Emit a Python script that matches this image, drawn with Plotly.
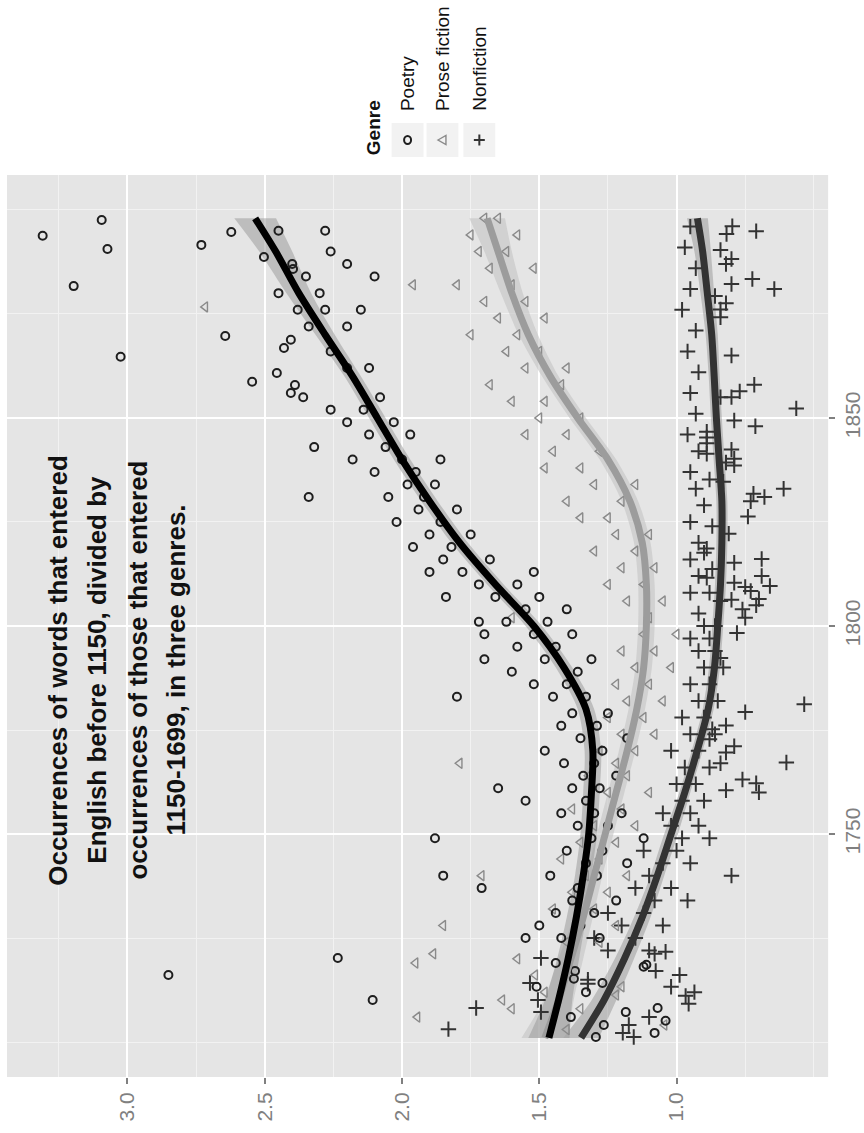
import plotly.graph_objects as go

W, H = 864, 1133

# ---- smoothed trends (year -> ratio) and half-width of the confidence band ----
trend_years = [1701, 1710, 1720, 1730, 1740, 1750, 1760, 1770, 1780, 1790, 1800,
               1810, 1820, 1830, 1840, 1850, 1860, 1870, 1880, 1890, 1898]
poetry_fit = [1.465, 1.43, 1.395, 1.365, 1.34, 1.32, 1.31, 1.305, 1.33, 1.41, 1.52,
              1.66, 1.79, 1.90, 2.00, 2.09, 2.18, 2.28, 2.376, 2.46, 2.535]
poetry_se = [0.075, 0.05, 0.04, 0.035, 0.03, 0.03, 0.03, 0.03, 0.03, 0.03, 0.03,
             0.03, 0.03, 0.03, 0.03, 0.03, 0.03, 0.035, 0.045, 0.06, 0.076]
prose_fit = [1.48, 1.43, 1.385, 1.34, 1.30, 1.26, 1.22, 1.18, 1.145, 1.12, 1.11,
             1.11, 1.125, 1.17, 1.25, 1.36, 1.46, 1.54, 1.60, 1.65, 1.69]
prose_se = [0.085, 0.055, 0.045, 0.035, 0.03, 0.03, 0.03, 0.03, 0.03, 0.03, 0.03,
            0.03, 0.03, 0.03, 0.03, 0.03, 0.03, 0.035, 0.04, 0.05, 0.065]
nonfic_fit = [1.348, 1.265, 1.19, 1.125, 1.07, 1.02, 0.97, 0.925, 0.885, 0.862, 0.85,
              0.84, 0.835, 0.835, 0.845, 0.855, 0.863, 0.872, 0.888, 0.905, 0.924]
nonfic_se = [0.065, 0.045, 0.035, 0.03, 0.025, 0.025, 0.02, 0.02, 0.02, 0.02, 0.02,
             0.02, 0.02, 0.02, 0.02, 0.02, 0.02, 0.022, 0.025, 0.03, 0.038]

# ---- individual texts: Poetry ----
poetry_year = [1893.8, 1897.6, 1890.6, 1881.7, 1864.7, 1891.6, 1894.7, 1888.7, 1885.8,
               1869.7, 1858.7, 1866.8, 1868.8, 1860.8, 1857.9, 1856.0,
               1716.1, 1720.2, 1710.1, 1719.0, 1713.3, 1706.0, 1717.1, 1715.2, 1712.0,
               1714.2, 1707.2, 1704.1, 1701.2, 1702.2, 1705.1, 1708.2, 1718.1, 1718.6,
               1725, 1725, 1725, 1728, 1728, 1731, 1731, 1734, 1734, 1737, 1737,
               1740, 1740, 1740, 1743, 1743, 1746, 1746, 1749, 1749, 1749, 1752, 1752,
               1755, 1755, 1755, 1758, 1758, 1761, 1761, 1761, 1764, 1764, 1767, 1767,
               1770, 1770, 1773, 1773, 1776, 1776, 1779, 1779, 1783, 1783, 1783,
               1786, 1786, 1789, 1789, 1792, 1792, 1792, 1795, 1795, 1798, 1798, 1798,
               1801, 1801, 1801, 1804, 1804, 1807, 1807, 1807, 1810, 1810,
               1813, 1813, 1813, 1816, 1816, 1819, 1819, 1822, 1822, 1825, 1825,
               1828, 1828, 1831, 1831, 1831, 1834, 1834, 1837, 1837, 1840, 1840, 1840,
               1843, 1843, 1846, 1846, 1849, 1849, 1852, 1852, 1855, 1855,
               1862, 1862, 1866, 1872, 1872, 1876, 1876, 1876, 1880, 1880,
               1884, 1884, 1887, 1887, 1890, 1895, 1895]
poetry_val = [3.309, 3.094, 3.073, 3.196, 3.025, 2.731, 2.622, 2.503, 2.397,
              2.644, 2.546, 2.430, 2.405, 2.456, 2.39, 2.405,
              2.851, 2.234, 2.107, 1.44, 1.51, 1.385, 1.37, 1.374, 1.33,
              1.27, 1.185, 1.265, 1.294, 1.08, 1.04, 1.069, 1.12, 1.11,
              1.42, 1.28, 1.55, 1.35, 1.50, 1.30, 1.44, 1.38, 1.22, 1.36, 1.71,
              1.29, 1.85, 1.46, 1.33, 1.18, 1.40, 1.27, 1.31, 1.88, 1.12, 1.36, 1.25,
              1.42, 1.30, 1.20, 1.33, 1.55, 1.28, 1.65, 1.38, 1.34, 1.22, 1.41, 1.30,
              1.27, 1.48, 1.35, 1.18, 1.29, 1.42, 1.38, 1.25, 1.80, 1.33, 1.45,
              1.40, 1.52, 1.36, 1.60, 1.48, 1.31, 1.70, 1.44, 1.58, 1.52, 1.38, 1.70,
              1.47, 1.62, 1.72, 1.55, 1.40, 1.66, 1.50, 1.84, 1.72, 1.58,
              1.78, 1.52, 1.90, 1.68, 1.85, 1.82, 1.96, 1.90, 1.75, 1.86, 2.02,
              1.94, 1.80, 2.05, 1.92, 2.34, 1.98, 1.88, 2.10, 1.95, 2.00, 2.18, 1.86,
              2.32, 2.06, 2.12, 1.97, 2.20, 2.03, 2.14, 2.26, 2.08, 2.36,
              2.20, 2.12, 2.26, 2.34, 2.20, 2.38, 2.28, 2.15, 2.45, 2.30,
              2.10, 2.35, 2.40, 2.20, 2.26, 2.28, 2.45]

# ---- individual texts: Prose fiction ----
prose_year = [1876.7, 1719.0, 1721.2, 1706.0, 1710.1, 1716.1, 1713.3, 1711.3, 1704.1,
              1703, 1708, 1708, 1712, 1720, 1724, 1724, 1728, 1728, 1728, 1732, 1732,
              1736, 1736, 1740, 1740, 1740, 1744, 1744, 1748, 1748, 1752, 1752,
              1756, 1756, 1760, 1760, 1764, 1764, 1767, 1767, 1770, 1770, 1774, 1774,
              1778, 1778, 1782, 1782, 1786, 1786, 1790, 1790, 1794, 1794, 1798, 1798,
              1802, 1802, 1806, 1806, 1810, 1810, 1814, 1814, 1818, 1818, 1822, 1822,
              1826, 1826, 1830, 1830, 1834, 1834, 1838, 1838, 1842, 1842, 1846, 1846,
              1850, 1850, 1854, 1854, 1858, 1858, 1862, 1862, 1866, 1866, 1870, 1870,
              1874, 1874, 1878, 1878, 1882, 1882, 1882, 1886, 1886, 1890, 1890,
              1894, 1894, 1898, 1898]
prose_val = [2.717, 1.951, 1.886, 1.944, 1.635, 1.515, 1.20, 1.22, 1.044,
             1.40, 1.35, 1.60, 1.48, 1.58, 1.40, 1.28, 1.85, 1.35, 1.22, 1.30, 1.45,
             1.25, 1.38, 1.71, 1.33, 1.18, 1.28, 1.42, 1.22, 1.35, 1.30, 1.15,
             1.20, 1.38, 1.25, 1.10, 1.18, 1.32, 1.79, 1.22, 1.15, 1.28, 1.20, 1.08,
             1.12, 1.25, 1.18, 1.05, 1.10, 1.22, 1.15, 1.02, 1.08, 1.20, 1.12, 1.00,
             1.60, 1.10, 1.05, 1.18, 1.12, 1.25, 1.08, 1.20, 1.15, 1.30, 1.10, 1.22,
             1.25, 1.35, 1.20, 1.40, 1.30, 1.15, 1.35, 1.48, 1.28, 1.45, 1.40, 1.55,
             1.35, 1.50, 1.48, 1.60, 1.42, 1.68, 1.55, 1.40, 1.62, 1.50, 1.58, 1.75,
             1.65, 1.48, 1.70, 1.55, 1.60, 1.80, 1.96, 1.68, 1.52, 1.72, 1.62,
             1.58, 1.75, 1.70, 1.65]

# ---- individual texts: Nonfiction ----
nonfic_year = [1896.1, 1894.9, 1894.2, 1890.4, 1888.2, 1887.0, 1883.4, 1882.2, 1881.0,
               1879.3, 1877.6, 1876.1, 1874.2, 1865.0, 1858.0, 1856.4, 1855.0, 1855.0,
               1852.3, 1849.4, 1848.0, 1846.7, 1845.3, 1843.9, 1842.4, 1840.2, 1841.4,
               1839.3, 1838.6, 1835.2, 1834.7, 1833.0, 1831.8, 1830.0, 1831.0, 1826.3,
               1824.0, 1822.2, 1817.6, 1818.6, 1815.2, 1816.1, 1812.0, 1813.7, 1811.6,
               1810.4, 1809.4, 1808.4, 1809.6, 1806.3, 1806.0, 1806.5, 1805.0, 1804.0,
               1802.0, 1798.3, 1792.3, 1781.2, 1779.3, 1776.1, 1775.2, 1772.8, 1771.1,
               1769.6, 1767.0, 1767.2, 1763.1, 1762.2, 1760.0, 1760.5,
               1708.2, 1703.1, 1720.2, 1714.2, 1710.1, 1707.2, 1715.0, 1714.0, 1702.2,
               1701.2, 1704.1, 1706.0, 1717.1, 1721.2, 1721.7, 1716.1, 1713.3, 1711.1,
               1712.0, 1709.2,
               1722, 1722, 1725, 1725, 1728, 1728, 1731, 1731, 1734, 1734, 1737, 1737,
               1740, 1740, 1743, 1743, 1746, 1746, 1749, 1749, 1752, 1752, 1755, 1755,
               1758, 1758, 1762, 1762, 1766, 1766, 1770, 1770, 1774, 1774, 1778, 1778,
               1782, 1782, 1786, 1786, 1790, 1790, 1794, 1794, 1797, 1797, 1800, 1800,
               1803, 1808, 1808, 1812, 1816, 1820, 1825, 1829, 1833, 1837, 1842, 1846,
               1851, 1856, 1861, 1866, 1871, 1876, 1881, 1886, 1891, 1896]
nonfic_val = [0.797, 0.710, 0.818, 0.840, 0.80, 0.82, 0.724, 0.80, 0.644,
              0.86, 0.82, 0.84, 0.84, 0.80, 0.717, 0.77, 0.80, 0.84,
              0.564, 0.79, 0.713, 0.89, 0.89, 0.89, 0.80, 0.79, 0.89,
              0.82, 0.79, 0.88, 0.83, 0.61, 0.72, 0.73, 0.68, 0.74,
              0.87, 0.81, 0.90, 0.89, 0.79, 0.69, 0.69, 0.87, 0.89,
              0.79, 0.75, 0.73, 0.66, 0.80, 0.84, 0.70, 0.71, 0.76,
              0.75, 0.78, 0.84, 0.535, 0.75, 0.82, 0.87, 0.88, 0.79,
              0.82, 0.84, 0.60, 0.76, 0.71, 0.70, 0.82,
              1.730, 1.831, 1.494, 1.534, 1.505, 1.494, 1.323, 1.323, 1.196,
              1.156, 1.174, 1.10, 1.076, 1.08, 1.04, 0.989, 1.02, 0.967,
              0.935, 0.956,
              1.25, 1.10, 1.15, 1.30, 1.20, 1.05, 1.12, 1.25, 1.08, 0.96, 1.15, 1.02,
              0.80, 1.10, 1.05, 0.95, 1.00, 1.12, 0.98, 0.88, 1.02, 0.92, 0.95, 1.05,
              0.90, 0.98, 0.93, 1.00, 0.88, 0.97, 0.92, 1.02, 0.95, 0.86, 0.90, 0.98,
              0.92, 0.85, 0.88, 0.95, 0.90, 0.83, 0.92, 0.86, 0.88, 0.95, 0.90, 0.86,
              0.92, 0.95, 0.88, 0.92, 0.95, 0.92, 0.95, 0.90, 0.93, 0.95, 0.92, 0.96,
              0.93, 0.95, 0.92, 0.96, 0.93, 0.98, 0.95, 0.93, 0.97, 0.95]

# ---- layout constants (pixels) ----
PANEL_L, PANEL_R, PANEL_T, PANEL_B = 7, 831, 175, 1077
X_RANGE = [3.439, 0.448]
Y_RANGE = [1691.6, 1908.4]
FONT = "Liberation Sans, Arial, Helvetica, sans-serif"
TICK_GREY = "#808080"
POETRY_COL, PROSE_COL, NONFIC_COL = "#1e1e1e", "#8a8a8a", "#333333"


def px(x, y):
    """Page pixel -> paper fraction."""
    return x / W, 1 - y / H


fig = go.Figure()

# confidence bands: lower edge, then upper edge filled horizontally to it
for fit, se, col in [(nonfic_fit, nonfic_se, "rgba(140,140,140,0.45)"),
                     (prose_fit, prose_se, "rgba(195,195,195,0.6)"),
                     (poetry_fit, poetry_se, "rgba(150,150,150,0.5)")]:
    lower = [f - s for f, s in zip(fit, se)]
    upper = [f + s for f, s in zip(fit, se)]
    fig.add_trace(go.Scatter(x=lower, y=trend_years, mode="lines",
                             line=dict(width=0, shape="spline", smoothing=0.8),
                             hoverinfo="skip", showlegend=False))
    fig.add_trace(go.Scatter(x=upper, y=trend_years, mode="lines", fill="tonextx",
                             fillcolor=col, line=dict(width=0, shape="spline", smoothing=0.8),
                             hoverinfo="skip", showlegend=False))

# points
fig.add_trace(go.Scatter(x=nonfic_val, y=nonfic_year, mode="markers", name="Nonfiction",
                         marker=dict(symbol="cross-thin-open", size=11, color=NONFIC_COL,
                                     line=dict(width=2, color=NONFIC_COL))))
fig.add_trace(go.Scatter(x=prose_val, y=prose_year, mode="markers", name="Prose fiction",
                         marker=dict(symbol="triangle-left-open", size=9, color=PROSE_COL,
                                     line=dict(width=1.4, color=PROSE_COL))))
fig.add_trace(go.Scatter(x=poetry_val, y=poetry_year, mode="markers", name="Poetry",
                         marker=dict(symbol="circle-open", size=8, color=POETRY_COL,
                                     line=dict(width=2, color=POETRY_COL))))

# trend lines
for fit, col in [(nonfic_fit, "#333333"), (prose_fit, "#9c9c9c"), (poetry_fit, "#000000")]:
    fig.add_trace(go.Scatter(x=fit, y=trend_years, mode="lines",
                             line=dict(color=col, width=7, shape="spline", smoothing=0.8),
                             hoverinfo="skip", showlegend=False))

# ---- legend, drawn as paper-space shapes and rotated labels ----
legend_names = ["Poetry", "Prose fiction", "Nonfiction"]
legend_x = [409, 444, 481]
KEY_Y = 140
shapes = []
for lx in legend_x:
    x0, y0 = px(lx - 16, 157)
    x1, y1 = px(lx + 16, 123)
    shapes.append(dict(type="rect", xref="paper", yref="paper", x0=x0, x1=x1, y0=y0, y1=y1,
                       fillcolor="#F2F2F2", line=dict(width=0), layer="below"))
# circle key
cx0, cy0 = px(legend_x[0] - 3.5, KEY_Y + 4)
cx1, cy1 = px(legend_x[0] + 3.5, KEY_Y - 4)
shapes.append(dict(type="circle", xref="paper", yref="paper", x0=cx0, x1=cx1, y0=cy0, y1=cy1,
                   line=dict(color=POETRY_COL, width=2)))
# left-pointing triangle key
tx = legend_x[1]
pts = [px(tx - 4.5, KEY_Y), px(tx + 3.5, KEY_Y - 4.5), px(tx + 3.5, KEY_Y + 4.5)]
path = "M {} {} L {} {} L {} {} Z".format(*[c for p in pts for c in p])
shapes.append(dict(type="path", xref="paper", yref="paper", path=path,
                   line=dict(color=PROSE_COL, width=1.4)))
# plus key
plx = legend_x[2]
for (ax, ay), (bx_, by_) in [((plx - 5.5, KEY_Y), (plx + 5.5, KEY_Y)),
                             ((plx, KEY_Y - 5.5), (plx, KEY_Y + 5.5))]:
    p0, p1 = px(ax, ay), px(bx_, by_)
    shapes.append(dict(type="line", xref="paper", yref="paper", x0=p0[0], y0=p0[1],
                       x1=p1[0], y1=p1[1], line=dict(color=NONFIC_COL, width=2)))

annotations = []
for lx, name in zip(legend_x, legend_names):
    annotations.append(dict(text=name, x=lx / W, y=1 - 113 / H, xref="paper", yref="paper",
                            xanchor="center", yanchor="bottom", textangle=-90,
                            showarrow=False, font=dict(family=FONT, size=19, color="#111111")))
annotations.append(dict(text="<b>Genre</b>", x=375 / W, y=1 - 157 / H, xref="paper",
                        yref="paper", xanchor="center", yanchor="bottom", textangle=-90,
                        showarrow=False, font=dict(family=FONT, size=19, color="#111111")))

title_lines = ["Occurrences of words that entered",
               "English before 1150, divided by",
               "occurrences of those that entered",
               "1150-1699, in three genres."]
title_x = [58, 97, 138, 177]
for tx_, line in zip(title_x, title_lines):
    annotations.append(dict(text="<b>" + line + "</b>", x=tx_ / W, y=1 - 670 / H,
                            xref="paper", yref="paper", xanchor="center", yanchor="middle",
                            textangle=-90, showarrow=False,
                            font=dict(family=FONT, size=26, color="#111111")))

fig.update_layout(
    width=W, height=H,
    margin=dict(l=0, r=0, t=0, b=0),
    paper_bgcolor="white",
    plot_bgcolor="#E5E5E5",
    showlegend=False,
    annotations=annotations,
    shapes=shapes,
    xaxis=dict(domain=[PANEL_L / W, PANEL_R / W], range=X_RANGE, anchor="y",
               tickvals=[1.0, 1.5, 2.0, 2.5, 3.0], ticktext=["1.0", "1.5", "2.0", "2.5", "3.0"],
               tickangle=-90, ticks="outside", ticklen=6, tickwidth=1.5, tickcolor=TICK_GREY,
               tickfont=dict(family=FONT, size=21, color=TICK_GREY),
               showgrid=True, gridcolor="white", gridwidth=2.2, zeroline=False,
               showline=False,
               minor=dict(dtick=0.25, tick0=0, showgrid=True, gridcolor="#F2F2F2",
                          gridwidth=1, ticks="")),
    yaxis=dict(domain=[1 - PANEL_B / H, 1 - PANEL_T / H], range=Y_RANGE, anchor="x",
               side="right", tickvals=[1750, 1800, 1850], tickangle=-90,
               ticks="outside", ticklen=6, tickwidth=1.5, tickcolor=TICK_GREY,
               tickfont=dict(family=FONT, size=21, color=TICK_GREY),
               showgrid=True, gridcolor="white", gridwidth=2.2, zeroline=False,
               showline=False,
               minor=dict(dtick=25, tick0=1700, showgrid=True, gridcolor="#F2F2F2",
                          gridwidth=1, ticks="")),
)

fig.write_html("out.html")
